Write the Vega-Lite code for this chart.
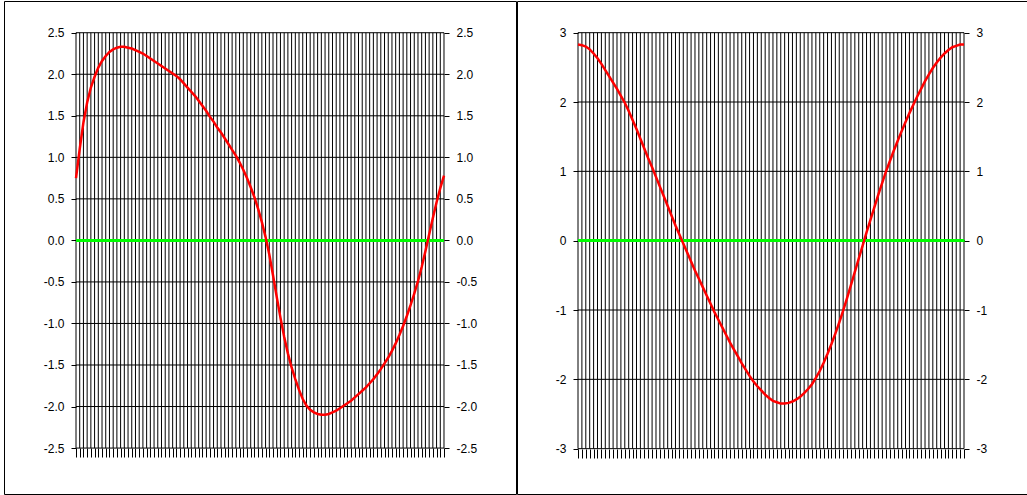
{
  "$schema": "https://vega.github.io/schema/vega-lite/v6.json",
  "padding": {"left": 3, "top": 0, "right": 0, "bottom": 0},
  "spacing": -2,
  "config": {
    "view": {"stroke": "#000000", "strokeWidth": 1},
    "axis": {
      "labelFont": "Liberation Sans",
      "labelFontSize": 12,
      "labelColor": "#000000",
      "tickColor": "#000000",
      "tickWidth": 1,
      "tickSize": 5,
      "labelPadding": 7,
      "domain": false,
      "grid": false,
      "title": null
    }
  },
  "datasets": {
    "left": [
      {"i":0,"v":0.75},{"i":1,"v":1.1},{"i":2,"v":1.42},{"i":3,"v":1.66},{"i":4,"v":1.84},{"i":5,"v":1.97},{"i":6,"v":2.08},{"i":7,"v":2.16},{"i":8,"v":2.22},{"i":9,"v":2.27},
      {"i":10,"v":2.3},{"i":11,"v":2.32},{"i":12,"v":2.33},{"i":13,"v":2.33},{"i":14,"v":2.32},{"i":15,"v":2.31},{"i":16,"v":2.29},{"i":17,"v":2.27},{"i":18,"v":2.25},{"i":19,"v":2.22},
      {"i":20,"v":2.19},{"i":21,"v":2.16},{"i":22,"v":2.13},{"i":23,"v":2.1},{"i":24,"v":2.07},{"i":25,"v":2.04},{"i":26,"v":2.01},{"i":27,"v":1.98},{"i":28,"v":1.94},{"i":29,"v":1.89},
      {"i":30,"v":1.84},{"i":31,"v":1.79},{"i":32,"v":1.74},{"i":33,"v":1.68},{"i":34,"v":1.62},{"i":35,"v":1.56},{"i":36,"v":1.49},{"i":37,"v":1.43},{"i":38,"v":1.36},{"i":39,"v":1.3},
      {"i":40,"v":1.23},{"i":41,"v":1.16},{"i":42,"v":1.09},{"i":43,"v":1.02},{"i":44,"v":0.94},{"i":45,"v":0.85},{"i":46,"v":0.75},{"i":47,"v":0.64},{"i":48,"v":0.52},{"i":49,"v":0.38},
      {"i":50,"v":0.22},{"i":51,"v":0.04},{"i":52,"v":-0.17},{"i":53,"v":-0.42},{"i":54,"v":-0.68},{"i":55,"v":-0.93},{"i":56,"v":-1.16},{"i":57,"v":-1.36},{"i":58,"v":-1.53},{"i":59,"v":-1.67},
      {"i":60,"v":-1.8},{"i":61,"v":-1.91},{"i":62,"v":-1.99},{"i":63,"v":-2.04},{"i":64,"v":-2.07},{"i":65,"v":-2.09},{"i":66,"v":-2.1},{"i":67,"v":-2.1},{"i":68,"v":-2.09},{"i":69,"v":-2.07},
      {"i":70,"v":-2.05},{"i":71,"v":-2.02},{"i":72,"v":-1.99},{"i":73,"v":-1.96},{"i":74,"v":-1.93},{"i":75,"v":-1.89},{"i":76,"v":-1.85},{"i":77,"v":-1.81},{"i":78,"v":-1.77},{"i":79,"v":-1.72},
      {"i":80,"v":-1.67},{"i":81,"v":-1.61},{"i":82,"v":-1.55},{"i":83,"v":-1.48},{"i":84,"v":-1.41},{"i":85,"v":-1.33},{"i":86,"v":-1.24},{"i":87,"v":-1.14},{"i":88,"v":-1.03},{"i":89,"v":-0.91},
      {"i":90,"v":-0.78},{"i":91,"v":-0.64},{"i":92,"v":-0.49},{"i":93,"v":-0.32},{"i":94,"v":-0.13},{"i":95,"v":0.07},{"i":96,"v":0.27},{"i":97,"v":0.46},{"i":98,"v":0.63},{"i":99,"v":0.78}
    ],
    "right": [
      {"i":0,"v":2.83},{"i":1,"v":2.82},{"i":2,"v":2.8},{"i":3,"v":2.76},{"i":4,"v":2.7},{"i":5,"v":2.63},{"i":6,"v":2.55},{"i":7,"v":2.46},{"i":8,"v":2.37},{"i":9,"v":2.28},
      {"i":10,"v":2.19},{"i":11,"v":2.09},{"i":12,"v":1.99},{"i":13,"v":1.87},{"i":14,"v":1.74},{"i":15,"v":1.61},{"i":16,"v":1.47},{"i":17,"v":1.33},{"i":18,"v":1.19},{"i":19,"v":1.06},
      {"i":20,"v":0.92},{"i":21,"v":0.78},{"i":22,"v":0.64},{"i":23,"v":0.5},{"i":24,"v":0.36},{"i":25,"v":0.22},{"i":26,"v":0.09},{"i":27,"v":-0.04},{"i":28,"v":-0.17},{"i":29,"v":-0.3},
      {"i":30,"v":-0.43},{"i":31,"v":-0.55},{"i":32,"v":-0.67},{"i":33,"v":-0.79},{"i":34,"v":-0.91},{"i":35,"v":-1.03},{"i":36,"v":-1.14},{"i":37,"v":-1.25},{"i":38,"v":-1.36},{"i":39,"v":-1.47},
      {"i":40,"v":-1.57},{"i":41,"v":-1.67},{"i":42,"v":-1.77},{"i":43,"v":-1.86},{"i":44,"v":-1.95},{"i":45,"v":-2.03},{"i":46,"v":-2.1},{"i":47,"v":-2.16},{"i":48,"v":-2.22},{"i":49,"v":-2.27},
      {"i":50,"v":-2.31},{"i":51,"v":-2.33},{"i":52,"v":-2.35},{"i":53,"v":-2.35},{"i":54,"v":-2.34},{"i":55,"v":-2.32},{"i":56,"v":-2.29},{"i":57,"v":-2.25},{"i":58,"v":-2.2},{"i":59,"v":-2.14},
      {"i":60,"v":-2.07},{"i":61,"v":-1.98},{"i":62,"v":-1.88},{"i":63,"v":-1.76},{"i":64,"v":-1.63},{"i":65,"v":-1.49},{"i":66,"v":-1.34},{"i":67,"v":-1.18},{"i":68,"v":-1.01},{"i":69,"v":-0.83},
      {"i":70,"v":-0.64},{"i":71,"v":-0.45},{"i":72,"v":-0.26},{"i":73,"v":-0.07},{"i":74,"v":0.12},{"i":75,"v":0.3},{"i":76,"v":0.48},{"i":77,"v":0.66},{"i":78,"v":0.83},{"i":79,"v":1.0},
      {"i":80,"v":1.15},{"i":81,"v":1.3},{"i":82,"v":1.44},{"i":83,"v":1.58},{"i":84,"v":1.71},{"i":85,"v":1.84},{"i":86,"v":1.96},{"i":87,"v":2.08},{"i":88,"v":2.19},{"i":89,"v":2.3},
      {"i":90,"v":2.4},{"i":91,"v":2.49},{"i":92,"v":2.57},{"i":93,"v":2.64},{"i":94,"v":2.7},{"i":95,"v":2.75},{"i":96,"v":2.79},{"i":97,"v":2.81},{"i":98,"v":2.83},{"i":99,"v":2.83}
    ],
    "gridL": [{"g":-2.5},{"g":-2.0},{"g":-1.5},{"g":-1.0},{"g":-0.5},{"g":0.0},{"g":0.5},{"g":1.0},{"g":1.5},{"g":2.0},{"g":2.5}],
    "gridR": [{"g":-3},{"g":-2},{"g":-1},{"g":0},{"g":1},{"g":2},{"g":3}]
  },
  "hconcat": [
    {
      "width": 512,
      "height": 493,
      "resolve": {"axis": {"x": "independent", "y": "independent"}},
      "layer": [
        {
          "data": {"name": "left"},
          "mark": {"type": "rule", "color": "#000000", "strokeWidth": 1},
          "encoding": {
            "x": {"field": "i", "type": "quantitative", "scale": {"domain": [-19.37, 118.37], "nice": false, "zero": false},
                  "axis": {"orient": "bottom", "offset": -46, "tickSize": 9, "labels": false, "values": [0,1,2,3,4,5,6,7,8,9,10,11,12,13,14,15,16,17,18,19,20,21,22,23,24,25,26,27,28,29,30,31,32,33,34,35,36,37,38,39,40,41,42,43,44,45,46,47,48,49,50,51,52,53,54,55,56,57,58,59,60,61,62,63,64,65,66,67,68,69,70,71,72,73,74,75,76,77,78,79,80,81,82,83,84,85,86,87,88,89,90,91,92,93,94,95,96,97,98,99]}},
            "y": {"datum": 2.5, "type": "quantitative", "scale": {"domain": [-3.053, 2.882], "nice": false, "zero": false}, "axis": null},
            "y2": {"datum": -2.5}
          }
        },
        {
          "data": {"name": "gridL"},
          "mark": {"type": "rule", "color": "#000000", "strokeWidth": 1},
          "encoding": {
            "y": {"field": "g", "type": "quantitative", "scale": {"domain": [-3.053, 2.882], "nice": false, "zero": false},
                  "axis": {"orient": "left", "offset": -72, "values": [-2.5,-2,-1.5,-1,-0.5,0,0.5,1,1.5,2,2.5], "labelExpr": "datum.value < 0 ? '-' + format(-datum.value, '.1f') : format(datum.value, '.1f')"}},
            "x": {"datum": 0, "type": "quantitative", "scale": {"domain": [-19.37, 118.37], "nice": false, "zero": false}, "axis": null},
            "x2": {"datum": 99}
          }
        },
        {
          "data": {"name": "gridL"},
          "mark": {"type": "rule", "color": "#000000", "strokeWidth": 1, "opacity": 0},
          "encoding": {
            "y": {"field": "g", "type": "quantitative", "scale": {"domain": [-3.053, 2.882], "nice": false, "zero": false},
                  "axis": {"orient": "right", "offset": -72, "values": [-2.5,-2,-1.5,-1,-0.5,0,0.5,1,1.5,2,2.5], "labelExpr": "datum.value < 0 ? '-' + format(-datum.value, '.1f') : format(datum.value, '.1f')"}},
            "x": {"datum": 0, "type": "quantitative", "scale": {"domain": [-19.37, 118.37], "nice": false, "zero": false}, "axis": null},
            "x2": {"datum": 99}
          }
        },
        {
          "data": {"name": "left"},
          "mark": {"type": "rule", "color": "#00ff00", "strokeWidth": 2.5},
          "encoding": {
            "y": {"datum": 0, "type": "quantitative", "scale": {"domain": [-3.053, 2.882], "nice": false, "zero": false}, "axis": null},
            "x": {"datum": 0, "type": "quantitative", "scale": {"domain": [-19.37, 118.37], "nice": false, "zero": false}, "axis": null},
            "x2": {"datum": 99}
          }
        },
        {
          "data": {"name": "left"},
          "mark": {"type": "line", "color": "#ff0000", "strokeWidth": 2.5},
          "encoding": {
            "x": {"field": "i", "type": "quantitative", "scale": {"domain": [-19.37, 118.37], "nice": false, "zero": false}, "axis": null},
            "y": {"field": "v", "type": "quantitative", "scale": {"domain": [-3.053, 2.882], "nice": false, "zero": false}, "axis": null}
          }
        }
      ]
    },
    {
      "width": 511,
      "height": 493,
      "resolve": {"axis": {"x": "independent", "y": "independent"}},
      "layer": [
        {
          "data": {"name": "right"},
          "mark": {"type": "rule", "color": "#000000", "strokeWidth": 1},
          "encoding": {
            "x": {"field": "i", "type": "quantitative", "scale": {"domain": [-15.645, 115.41], "nice": false, "zero": false},
                  "axis": {"orient": "bottom", "offset": -45, "tickSize": 9, "labels": false, "values": [0,1,2,3,4,5,6,7,8,9,10,11,12,13,14,15,16,17,18,19,20,21,22,23,24,25,26,27,28,29,30,31,32,33,34,35,36,37,38,39,40,41,42,43,44,45,46,47,48,49,50,51,52,53,54,55,56,57,58,59,60,61,62,63,64,65,66,67,68,69,70,71,72,73,74,75,76,77,78,79,80,81,82,83,84,85,86,87,88,89,90,91,92,93,94,95,96,97,98,99]}},
            "y": {"datum": 3, "type": "quantitative", "scale": {"domain": [-3.654, 3.457], "nice": false, "zero": false}, "axis": null},
            "y2": {"datum": -3}
          }
        },
        {
          "data": {"name": "gridR"},
          "mark": {"type": "rule", "color": "#000000", "strokeWidth": 1},
          "encoding": {
            "y": {"field": "g", "type": "quantitative", "scale": {"domain": [-3.654, 3.457], "nice": false, "zero": false},
                  "axis": {"orient": "left", "offset": -61, "values": [-3,-2,-1,0,1,2,3], "labelExpr": "datum.value < 0 ? '-' + format(-datum.value, 'd') : format(datum.value, 'd')"}},
            "x": {"datum": 0, "type": "quantitative", "scale": {"domain": [-15.645, 115.41], "nice": false, "zero": false}, "axis": null},
            "x2": {"datum": 99}
          }
        },
        {
          "data": {"name": "gridR"},
          "mark": {"type": "rule", "color": "#000000", "strokeWidth": 1, "opacity": 0},
          "encoding": {
            "y": {"field": "g", "type": "quantitative", "scale": {"domain": [-3.654, 3.457], "nice": false, "zero": false},
                  "axis": {"orient": "right", "offset": -64, "values": [-3,-2,-1,0,1,2,3], "labelExpr": "datum.value < 0 ? '-' + format(-datum.value, 'd') : format(datum.value, 'd')"}},
            "x": {"datum": 0, "type": "quantitative", "scale": {"domain": [-15.645, 115.41], "nice": false, "zero": false}, "axis": null},
            "x2": {"datum": 99}
          }
        },
        {
          "data": {"name": "right"},
          "mark": {"type": "rule", "color": "#00ff00", "strokeWidth": 2.5},
          "encoding": {
            "y": {"datum": 0, "type": "quantitative", "scale": {"domain": [-3.654, 3.457], "nice": false, "zero": false}, "axis": null},
            "x": {"datum": 0, "type": "quantitative", "scale": {"domain": [-15.645, 115.41], "nice": false, "zero": false}, "axis": null},
            "x2": {"datum": 99}
          }
        },
        {
          "data": {"name": "right"},
          "mark": {"type": "line", "color": "#ff0000", "strokeWidth": 2.5},
          "encoding": {
            "x": {"field": "i", "type": "quantitative", "scale": {"domain": [-15.645, 115.41], "nice": false, "zero": false}, "axis": null},
            "y": {"field": "v", "type": "quantitative", "scale": {"domain": [-3.654, 3.457], "nice": false, "zero": false}, "axis": null}
          }
        }
      ]
    }
  ]
}
